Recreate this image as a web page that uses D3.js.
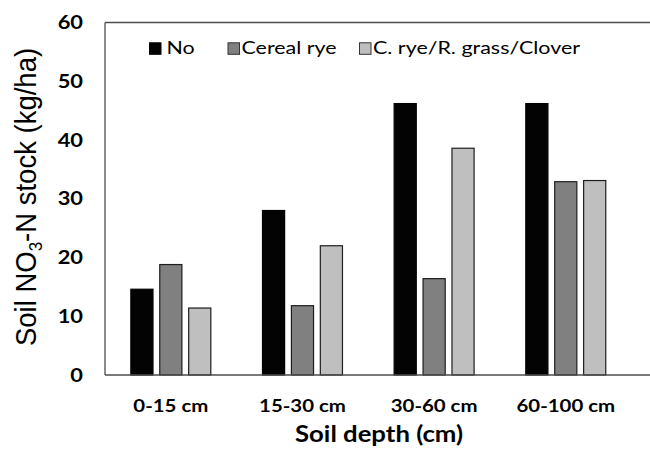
<!DOCTYPE html>
<html><head><meta charset="utf-8">
<script src="https://cdn.jsdelivr.net/npm/d3@7"></script>
<style>body{margin:0;background:#fff}svg{display:block}</style>
</head><body>
<svg id="c" width="650" height="453"></svg>
<script>
const categories = ["0-15 cm", "15-30 cm", "30-60 cm", "60-100 cm"];
const seriesNames = ["No", "Cereal rye", "C. rye/R. grass/Clover"];
const noValues = [14.6, 28.0, 46.2, 46.2];
const cerealRyeValues = [18.8, 11.8, 16.4, 32.9];
const mixValues = [11.4, 22.0, 38.6, 33.1];
const yTicks = [0, 10, 20, 30, 40, 50, 60];
const colors = ["#030303", "#808080", "#bfbfbf"];

const seriesValues = [noValues, cerealRyeValues, mixValues];
const svg = d3.select("#c");
const mLeft = 105, mRight = 631.6, mTop = 22.5, mBottom = 375;
const SX = 1.2; // horizontal stretch of the reference's text

const x0 = d3.scaleBand().domain(categories).range([mLeft, mRight]).paddingInner(0.385).paddingOuter(0.1925);
const x1 = d3.scaleBand().domain(seriesNames).range([0, x0.bandwidth()]).paddingInner(0.2);
const y = d3.scaleLinear().domain([0, 60]).range([mBottom, mTop]);
const color = d3.scaleOrdinal().domain(seriesNames).range(colors);

// bars
const groups = svg.append("g").selectAll("g").data(categories).join("g")
  .attr("transform", d => `translate(${x0(d)},0)`);
groups.selectAll("rect").data((c, ci) => seriesNames.map((s, si) => ({s, v: seriesValues[si][ci]})))
  .join("rect")
  .attr("x", d => x1(d.s) + 0.5)
  .attr("width", x1.bandwidth() - 1)
  .attr("y", d => y(d.v))
  .attr("height", d => y(0) - y(d.v))
  .attr("fill", d => color(d.s))
  .attr("stroke", d => d.s === "No" ? "#030303" : "#1e1e1e")
  .attr("stroke-width", 1.2);

// frame lines
const lineCol = "#4d4d4d";
svg.append("line").attr("x1", mLeft).attr("x2", 650).attr("y1", mTop).attr("y2", mTop).attr("stroke", lineCol).attr("stroke-width", 1.3);
svg.append("line").attr("x1", mLeft).attr("x2", mLeft).attr("y1", mTop).attr("y2", mBottom).attr("stroke", lineCol).attr("stroke-width", 1.3);
svg.append("line").attr("x1", mLeft).attr("x2", 650).attr("y1", mBottom).attr("y2", mBottom).attr("stroke", lineCol).attr("stroke-width", 1.3);

// y axis labels
const yAxis = d3.axisLeft(y).tickValues(yTicks).tickSize(0).tickPadding(22);
const gy = svg.append("g").attr("transform", `translate(${mLeft},0)`).call(yAxis);
gy.select(".domain").remove();
gy.selectAll("text")
  .attr("font-family", "Lato, sans-serif").attr("font-weight", "bold").attr("font-size", 19).attr("fill", "#000")
  .attr("x", -22 / 1.15).attr("transform", "scale(1.15,1)");

// x axis labels
const xAxis = d3.axisBottom(x0).tickSize(0);
const gx = svg.append("g").attr("transform", `translate(0,${mBottom})`).call(xAxis);
gx.select(".domain").remove();
gx.selectAll("text")
  .attr("font-family", "Lato, sans-serif").attr("font-weight", "bold").attr("font-size", 17).attr("fill", "#000")
  .attr("y", 37.5).attr("dy", 0).attr("transform", `scale(${SX},1)`);

// axis titles
svg.append("text").attr("transform", `translate(379,442) scale(1.17,1)`).attr("text-anchor", "middle")
  .attr("font-family", "Lato, sans-serif").attr("font-weight", "bold").attr("font-size", 22).text("Soil depth (cm)");

const yt = svg.append("text").attr("transform", `translate(36,197) scale(1.08,1) rotate(-90)`).attr("text-anchor", "middle")
  .attr("font-family", "Liberation Sans, Arial, sans-serif").attr("font-size", 27.5).attr("fill", "#000");
yt.append("tspan").text("Soil NO");
yt.append("tspan").attr("font-size", 17).attr("dy", 6).text("3");
yt.append("tspan").attr("dy", -6).text("-N stock (kg/ha)");

// legend
const legendX = [149.5, 228, 359.5];
const lg = svg.append("g").selectAll("g").data(seriesNames).join("g")
  .attr("transform", (d, i) => `translate(${legendX[i]},42.8)`);
lg.append("rect").attr("width", 11.5).attr("height", 11.5).attr("fill", d => color(d))
  .attr("stroke", d => d === "No" ? "#030303" : "#333").attr("stroke-width", 1);
lg.append("text").attr("transform", d => `translate(${d === "No" ? 17 : 13.5},11.6) scale(1.3,1)`)
  .attr("font-family", "Lato, sans-serif").attr("font-size", 16.5).attr("fill", "#000").text(d => d);
</script>
</body></html>
